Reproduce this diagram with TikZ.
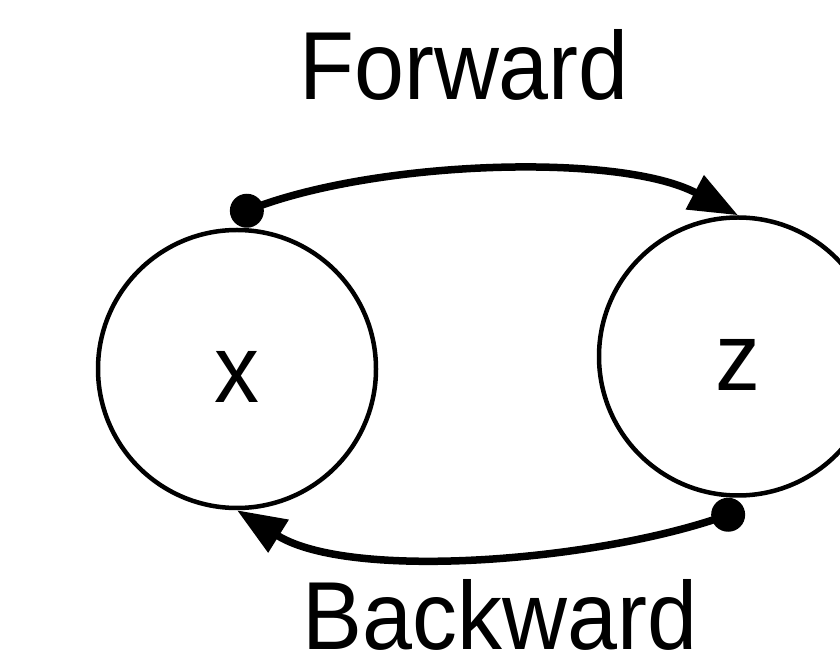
\documentclass[tikz,border=0pt]{standalone}
\usepackage{fontspec}
\setmainfont[FakeStretch=0.93]{Liberation Sans}
\usetikzlibrary{arrows.meta, positioning, calc}

\begin{document}
\begin{tikzpicture}[
    state/.style={draw, circle, minimum size=5.56cm, line width=0.09cm, inner sep=0pt, text height=1.36cm, font=\fontsize{55}{60}\selectfont},
    dot/.style={circle, fill, minimum size=0.68cm, inner sep=0pt},
    flow/.style={line width=0.15cm, -{Triangle[length=0.98cm, width=0.74cm]}},
    caption/.style={anchor=base, font=\fontsize{55}{60}\selectfont},
]
  \useasboundingbox (0,0) rectangle (16.8,13.16);
  \node[state] (x) at (4.74,5.78) {x};
  \node[state] (z) at (14.76,6.03) {z};
  \node[dot, anchor=south] (xdot) at (x.86) {};
  \node[dot, anchor=north] (zdot) at (z.266) {};
  \draw[flow] (xdot.center) to[out=22, in=152, looseness=0.7] (z.north);
  \draw[flow] (zdot.center) to[out=200, in=328, looseness=0.7] (x.south);
  \node[caption] (fwd) at (9.28,11.16) {Forward};
  \node[caption] (bwd) at (10.0,0.18) {Backward};
\end{tikzpicture}
\end{document}
